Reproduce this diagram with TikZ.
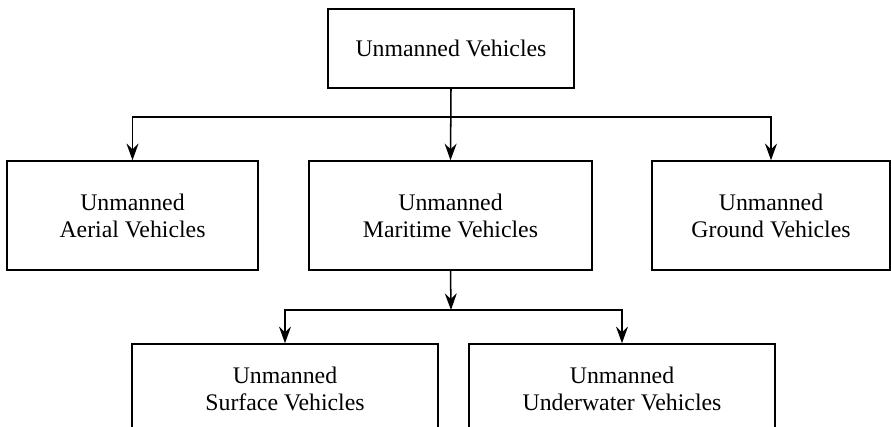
\documentclass[tikz,border=0pt]{standalone}
\usepackage{fontspec}
\setmainfont{Liberation Serif}
\usepackage{tikz}
\usetikzlibrary{arrows.meta,positioning,calc}

\tikzset{
    vehiclebox/.style={rectangle, draw=black, line width=1.3pt, fill=white,
        align=center, inner sep=0pt, font=\fontsize{20.3}{23}\selectfont},
    treearrow/.style={line width=1.3pt, -{Stealth[length=0.5cm, width=0.36cm, inset=0.17cm]}}
}

\begin{document}
\begin{tikzpicture}
            \clip (0,0) rectangle (26.73,-12.78);
            \useasboundingbox (0,0) rectangle (26.73,-12.78);
            \node[vehiclebox, minimum width=7.38cm, minimum height=2.37cm] (uv) at (13.53,-1.455) {Unmanned Vehicles};
            \node[vehiclebox, minimum width=7.53cm, minimum height=3.27cm] (uav) at (3.975,-6.465) {Unmanned\\Aerial Vehicles};
            \node[vehiclebox, minimum width=8.49cm, minimum height=3.27cm] (umv) at (13.515,-6.465) {Unmanned\\Maritime Vehicles};
            \node[vehiclebox, minimum width=7.14cm, minimum height=3.27cm] (ugv) at (23.13,-6.465) {Unmanned\\Ground Vehicles};
            \node[vehiclebox, minimum width=9.18cm, minimum height=2.67cm] (usv) at (8.55,-11.655) {Unmanned\\Surface Vehicles};
            \node[vehiclebox, minimum width=9.18cm, minimum height=2.67cm] (uuv) at (18.66,-11.655) {Unmanned\\Underwater Vehicles};
            \coordinate (split1) at (13.53,-3.51);
            \coordinate (split2) at (13.53,-9.3);
            \draw[treearrow] (uv.south) -- (umv.north);
            \draw[treearrow] (split1) -| (uav.north);
            \draw[treearrow] (split1) -| (ugv.north);
            \draw[treearrow] (umv.south) -- (split2);
            \draw[treearrow] (split2) -| (usv.north);
            \draw[treearrow] (split2) -| (uuv.north);
        \end{tikzpicture}
\end{document}
